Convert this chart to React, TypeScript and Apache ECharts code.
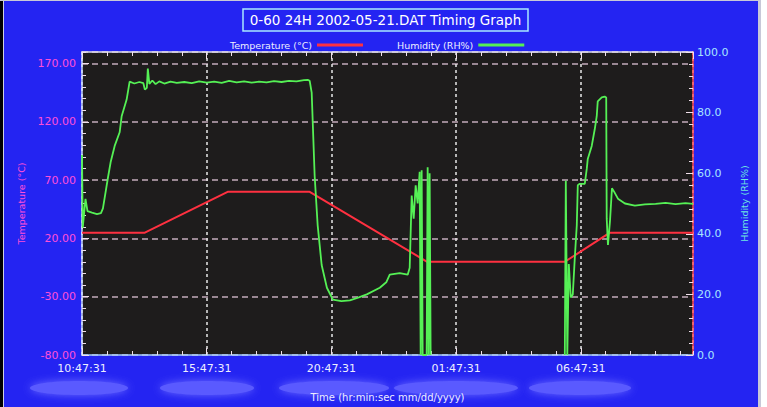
import React, { useEffect, useRef } from "react";
import * as echarts from "echarts";

// ---------- data ----------
const START_TIME = "10:47:31";
const X_MAX_HOURS = 24.5;

const tempTimes = [0, 2.52, 5.84, 9.13, 13.84, 19.36, 21.17, 24.5];
const tempValues = [25, 25, 60, 60, 0, 0, 25, 25];

const humTimes = [
  0.0, 0.03, 0.14, 0.22, 0.4, 0.6, 0.76, 0.84, 1.03, 1.15, 1.31, 1.51, 1.59, 1.79, 1.91,
  2.1, 2.3, 2.46, 2.52, 2.6, 2.64, 2.7, 2.82, 2.95, 3.1, 3.3, 3.55, 3.8, 4.1, 4.4, 4.7,
  5.0, 5.3, 5.6, 5.9, 6.2, 6.5, 6.8, 7.1, 7.4, 7.7, 8.0, 8.3, 8.6, 8.9, 9.05, 9.13,
  9.21, 9.33, 9.45, 9.61, 9.82, 10.06, 10.4, 10.74, 11.1, 11.42, 11.94, 12.2, 12.34,
  12.74, 13.06, 13.14, 13.22, 13.3, 13.38, 13.46, 13.54, 13.58, 13.62, 13.66, 13.82,
  13.86, 13.9, 13.94, 13.98, 14.0, 19.34, 19.36, 19.4, 19.46, 19.52, 19.6, 19.68,
  19.76, 19.84, 19.88, 19.96, 20.16, 20.24, 20.28, 20.44, 20.56, 20.64, 20.68, 20.84,
  20.96, 21.02, 21.04, 21.09, 21.17, 21.25, 21.33, 21.49, 21.77, 22.17, 22.57, 23.0,
  23.4, 23.8, 24.2, 24.5,
];
const humValues: (number | null)[] = [
  66, 42, 51.5, 47.5, 47, 46.5, 46.8, 48.4, 58, 63.7, 69, 73.5, 78.8, 84.3, 90.2,
  89.6, 90.1, 89.7, 87.6, 88.2, 94.5, 89.5, 90.6, 89.4, 90.3, 89.6, 90.2, 89.8, 90.1, 89.7, 90.3,
  89.9, 90.2, 89.8, 90.5, 90.0, 90.3, 89.9, 90.2, 90.0, 90.4, 90.1, 90.5, 90.3, 90.7, 90.8, 90.5,
  86.6, 59, 42.8, 29.7, 22.2, 18.3, 17.8, 18, 19, 20, 22.2, 24, 26.5,
  27, 26.5, 28.8, 52.6, 45, 56, 50, 60.5, 0, 61, 0, 0,
  62, 0, 60, 0, null, null, 0, 57.5, 0, 30, 19, 20,
  32, 42.8, 56, 56.5, 56.5, 61.4, 64.7, 69, 74.5, 78.8, 83.7, 85,
  85.3, 85, 45, 36.3, 44, 55, 54, 51.6, 50, 49.3, 49.7, 49.9,
  50.2, 49.8, 50.1, 49.9,
];

const dateBlobCenters = [79, 207, 334, 456, 580];
const dateBlobRadii = [49, 47, 55, 62, 51];

const FONT = "DejaVu Sans";

function timeLabel(h: number): string {
  const [hh, mm, ss] = START_TIME.split(":").map(Number);
  let s = Math.round(hh * 3600 + mm * 60 + ss + h * 3600) % 86400;
  const H = Math.floor(s / 3600);
  const M = Math.floor((s % 3600) / 60);
  const S = s % 60;
  const p = (n: number) => String(n).padStart(2, "0");
  return `${p(H)}:${p(M)}:${p(S)}`;
}

export default function App() {
  const ref = useRef<HTMLDivElement>(null);

  useEffect(() => {
    if (!ref.current) return;
    const chart = echarts.init(ref.current, undefined, { renderer: "svg" });

    const tempData = tempTimes.map((t, i) => [t, tempValues[i]]);
    const humData = humTimes.map((t, i) => [t, humValues[i] == null ? "-" : humValues[i]]);

    const tickLine = { color: "#f0e0ea", width: 1 };

    const minorX = (position: string) => ({
      type: "value",
      min: 0,
      max: X_MAX_HOURS,
      interval: 1,
      position,
      axisLine: { show: false, onZero: false },
      axisTick: { show: true, inside: true, length: 4, lineStyle: tickLine },
      axisLabel: { show: false },
      splitLine: { show: false },
    });

    const option: any = {
      animation: false,
      backgroundColor: "#2424f2",
      textStyle: { fontFamily: FONT },
      grid: {
        left: 82,
        top: 52,
        width: 611,
        height: 306,
        show: true,
        backgroundColor: "#1e1c1c",
        borderWidth: 0,
      },
      legend: {
        top: 35,
        left: 225,
        align: "right",
        itemWidth: 46,
        itemHeight: 3,
        itemGap: 34,
        icon: "rect",
        textStyle: { color: "#eeeeff", fontSize: 9.5, fontFamily: FONT },
        data: ["Temperature (°C)", "Humidity (RH%)"],
      },
      xAxis: [
        {
          type: "value",
          min: 0,
          max: X_MAX_HOURS,
          interval: 5,
          position: "bottom",
          axisLine: { show: true, onZero: false, lineStyle: { color: "#a8d0ff", width: 1.5 } },
          axisTick: { show: true, inside: true, length: 7, lineStyle: tickLine },
          axisLabel: {
            show: true,
            color: "#eeeeff",
            fontSize: 11,
            fontFamily: FONT,
            margin: 8,
            showMaxLabel: false,
            formatter: (v: number) => timeLabel(v),
          },
          splitLine: { show: true, lineStyle: { color: "#e8e8e8", type: [3, 3], width: 1.5 } },
          name: "Time (hr:min:sec mm/dd/yyyy)",
          nameLocation: "middle",
          nameGap: 37,
          nameTextStyle: { color: "#eeeeff", fontSize: 10, fontFamily: FONT },
        },
        minorX("bottom"),
        {
          type: "value",
          min: 0,
          max: X_MAX_HOURS,
          interval: 5,
          position: "top",
          axisLine: { show: true, onZero: false, lineStyle: { color: "#e0e0f0", width: 1.5 } },
          axisTick: { show: true, inside: true, length: 7, lineStyle: tickLine },
          axisLabel: { show: false },
          splitLine: { show: false },
        },
        minorX("top"),
      ],
      yAxis: [
        {
          type: "value",
          min: -80,
          max: 180,
          interval: 50,
          position: "left",
          axisLine: { show: true, onZero: false, lineStyle: { color: "#c8d8ff", width: 1.5 } },
          axisTick: { show: true, inside: true, length: 7, lineStyle: tickLine },
          axisLabel: {
            color: "#ff4fd8",
            fontSize: 11,
            fontFamily: FONT,
            margin: 6,
            showMaxLabel: false,
            formatter: (v: number) => v.toFixed(2),
          },
          splitLine: { show: true, lineStyle: { color: "#c4aabb", type: [6, 4], width: 1.5 } },
          name: "Temperature (°C)",
          nameLocation: "middle",
          nameRotate: 90,
          nameGap: 56,
          nameTextStyle: { color: "#ff4fd8", fontSize: 9.5, fontFamily: FONT },
        },
        {
          type: "value",
          min: 0,
          max: 100,
          interval: 20,
          position: "right",
          axisLine: { show: true, onZero: false, lineStyle: { color: "#ff4a50", width: 1.5 } },
          axisTick: { show: true, inside: true, length: 7, lineStyle: tickLine },
          minorTick: { show: true, splitNumber: 5, length: 4, lineStyle: tickLine },
          axisLabel: {
            color: "#a8e4ff",
            fontSize: 11,
            fontFamily: FONT,
            margin: 4,
            formatter: (v: number) => v.toFixed(1),
          },
          splitLine: { show: false },
          name: "Humidity (RH%)",
          nameLocation: "middle",
          nameRotate: 90,
          nameGap: 44,
          nameTextStyle: { color: "#70e8e0", fontSize: 9.5, fontFamily: FONT },
        },
        {
          type: "value",
          min: -80,
          max: 180,
          interval: 10,
          position: "left",
          axisLine: { show: false, onZero: false },
          axisTick: { show: true, inside: true, length: 4, lineStyle: tickLine },
          axisLabel: { show: false },
          splitLine: { show: false },
        },
      ],
      series: [
        {
          name: "Temperature (°C)",
          type: "line",
          xAxisIndex: 0,
          yAxisIndex: 0,
          data: tempData,
          showSymbol: false,
          symbol: "none",
          color: "#ff3040",
          lineStyle: { color: "#ff3040", width: 2 },
          z: 3,
        },
        {
          name: "Humidity (RH%)",
          type: "line",
          xAxisIndex: 0,
          yAxisIndex: 1,
          data: humData,
          showSymbol: false,
          symbol: "none",
          connectNulls: false,
          color: "#55f055",
          lineStyle: { color: "#55f055", width: 1.8 },
          z: 4,
        },
      ],
      graphic: [
        { type: "rect", shape: { x: 0, y: 0, width: 3, height: 407 }, style: { fill: "#000000" } },
        { type: "rect", shape: { x: 3, y: 0, width: 1, height: 407 }, style: { fill: "#d0d0e0" } },
        { type: "rect", shape: { x: 0, y: 0, width: 767, height: 1 }, style: { fill: "#c8c8d8" } },
        { type: "rect", shape: { x: 758, y: 0, width: 3, height: 407 }, style: { fill: "#c8c8d8" } },
        { type: "rect", shape: { x: 761, y: 0, width: 6, height: 407 }, style: { fill: "#ffffff" } },
        {
          type: "rect",
          shape: { x: 243, y: 9, width: 285, height: 22 },
          style: { fill: "none", stroke: "#a8e8ff", lineWidth: 1.5 },
        },
        {
          type: "text",
          style: {
            text: "0-60 24H 2002-05-21.DAT Timing Graph",
            x: 385.5,
            y: 20,
            textAlign: "center",
            textVerticalAlign: "middle",
            verticalAlign: "middle",
            fill: "#ffffff",
            font: `13.5px "${FONT}"`,
          },
        },
        ...dateBlobCenters.map((cx, i) => ({
          type: "ellipse",
          shape: { cx, cy: 388, rx: dateBlobRadii[i], ry: 7 },
          style: { fill: "#5a5aff", shadowBlur: 8, shadowColor: "#6a6aff" },
          z: -1,
        })),
      ],
    };

    chart.setOption(option);
    return () => chart.dispose();
  }, []);

  return (
    <div
      ref={ref}
      style={{ position: "fixed", left: 0, top: 0, width: 767, height: 407 }}
    />
  );
}
